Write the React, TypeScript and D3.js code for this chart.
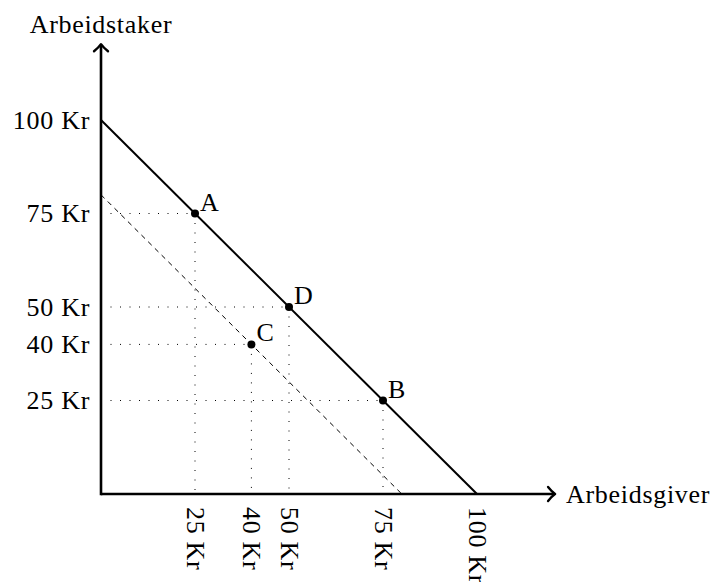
import React from "react";
import * as d3 from "d3";

const xTicks = [25, 40, 50, 75, 100];
const yTicks = [25, 40, 50, 75, 100];
const budgetLine = [{ x: 0, y: 100 }, { x: 100, y: 0 }];
const dashedLine = [{ x: 0, y: 80 }, { x: 80, y: 0 }];
const points = [
  { name: "A", x: 25, y: 75 },
  { name: "D", x: 50, y: 50 },
  { name: "C", x: 40, y: 40 },
  { name: "B", x: 75, y: 25 },
];
const xLabel = "Arbeidsgiver";
const yLabel = "Arbeidstaker";
const unit = "Kr";

const FONT = "'Liberation Serif', 'Times New Roman', serif";

export default function App() {
  const W = 712, H = 582;
  const x = d3.scaleLinear().domain([0, 100]).range([101, 477]);
  const y = d3.scaleLinear().domain([0, 100]).range([494, 120]);
  const line = d3.line<{ x: number; y: number }>().x(d => x(d.x)).y(d => y(d.y));
  const xEnd = x(120.5);
  const yEnd = y(120);
  const fs = 26;
  const ls = 0.7;
  return (
    <svg width={W} height={H} style={{ position: "absolute", left: 0, top: 0, background: "#fff" }}
      fontFamily={FONT} fontSize={fs} letterSpacing={ls}>
      <rect width={W} height={H} fill="#fff" />
      {/* dotted guides */}
      {points.map(p => (
        <g key={"g" + p.name} stroke="#000" strokeWidth={1} strokeDasharray="1 8.5" fill="none">
          <line x1={x(0)} y1={y(p.y)} x2={x(p.x)} y2={y(p.y)} />
          <line x1={x(p.x)} y1={y(p.y)} x2={x(p.x)} y2={y(0)} />
        </g>
      ))}
      {/* dashed line */}
      <path d={line(dashedLine) || ""} stroke="#000" strokeWidth={1} strokeDasharray="5 4.5" fill="none" />
      {/* budget line */}
      <path d={line(budgetLine) || ""} stroke="#000" strokeWidth={2} fill="none" />
      {/* axes */}
      <line x1={x(0)} y1={y(0)} x2={xEnd} y2={y(0)} stroke="#000" strokeWidth={2.6} />
      <line x1={x(0)} y1={y(0) + 1.3} x2={x(0)} y2={yEnd} stroke="#000" strokeWidth={2.6} />
      <path d={`M${xEnd - 6},${y(0) - 7} Q${xEnd - 2},${y(0) - 2} ${xEnd + 1},${y(0)} Q${xEnd - 2},${y(0) + 2} ${xEnd - 6},${y(0) + 7}`}
        stroke="#000" strokeWidth={2.4} fill="none" strokeLinecap="round" strokeLinejoin="round" />
      <path d={`M${x(0) - 7},${yEnd + 6} Q${x(0) - 2},${yEnd + 2} ${x(0)},${yEnd - 1} Q${x(0) + 2},${yEnd + 2} ${x(0) + 7},${yEnd + 6}`}
        stroke="#000" strokeWidth={2.4} fill="none" strokeLinecap="round" strokeLinejoin="round" />
      {/* axis labels */}
      <text x={x(0)} y={33} textAnchor="middle">{yLabel}</text>
      <text x={566} y={494} dominantBaseline="central">{xLabel}</text>
      {/* y tick labels */}
      {yTicks.map(t => (
        <text key={"y" + t} x={90} y={y(t)} textAnchor="end" dominantBaseline="central">{`${t} ${unit}`}</text>
      ))}
      {/* x tick labels (rotated) */}
      {xTicks.map(t => (
        <text key={"x" + t} transform={`translate(${x(t)},${507}) rotate(90)`} dominantBaseline="central">{`${t} ${unit}`}</text>
      ))}
      {/* points */}
      {points.map(p => (
        <g key={p.name}>
          <circle cx={x(p.x)} cy={y(p.y)} r={4} fill="#000" />
          <text x={x(p.x) + 5} y={y(p.y) - 3}>{p.name}</text>
        </g>
      ))}
    </svg>
  );
}
